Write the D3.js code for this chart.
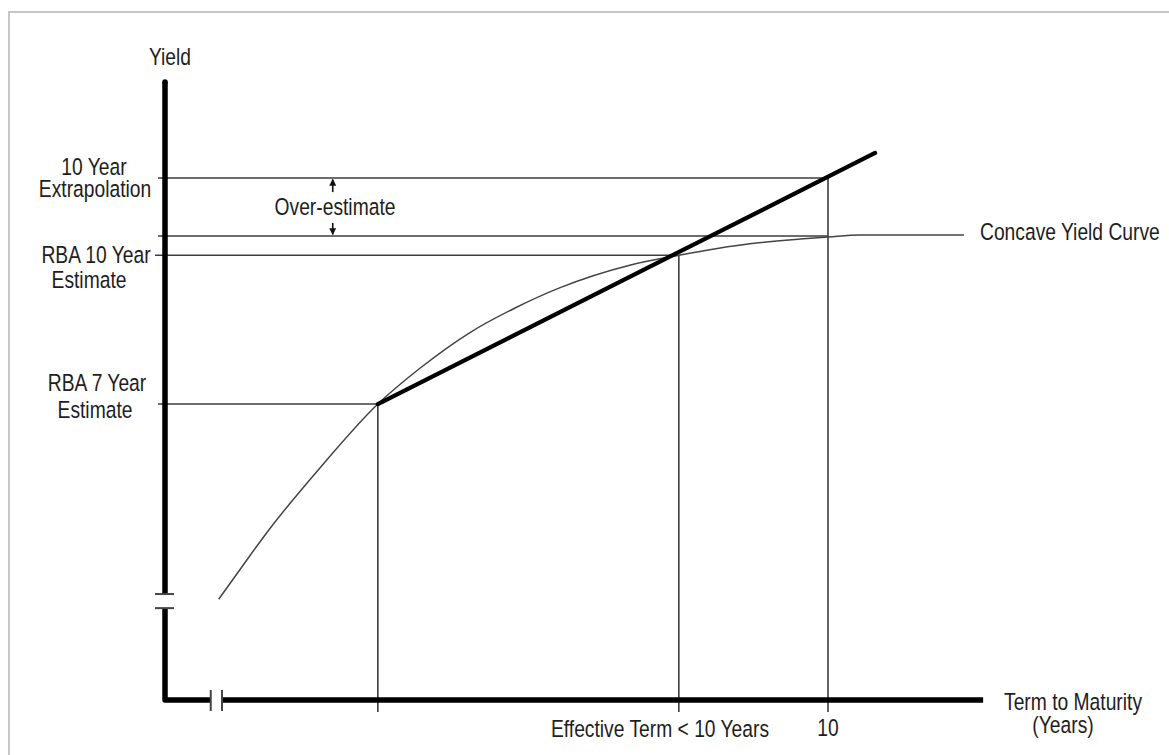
<!DOCTYPE html>
<html><head><meta charset="utf-8">
<script src="https://cdn.jsdelivr.net/npm/d3@7"></script>
<style>
body{margin:0;background:#fff;}
text{font-family:"Liberation Sans","Arial",sans-serif;font-size:23.5px;fill:#1e1e1e;}
</style>
</head><body>
<svg id="chart" width="1169" height="755"></svg>
<script>
// Concave yield curve (term units: 10 = ten-year mark; yield units arbitrary)
const curveTerm  = [0.81, 1.21, 1.58, 2.34, 3.21, 3.85, 4.60, 5.28, 5.96, 7.01, 7.75, 8.82, 9.58, 10.0, 10.48, 12.05];
const curveYield = [1.93, 2.64, 3.28, 4.45, 5.67, 6.36, 7.04, 7.51, 7.90, 8.33, 8.52, 8.74, 8.83, 8.87, 8.91, 8.91];
// Straight-line extrapolation from RBA 7-year through RBA 10-year estimate
const extrapTerm  = [3.21, 10.71];
const extrapYield = [5.67, 10.48];
// Reference levels on the yield axis
const levelNames  = ["10 Year Extrapolation", "Curve 10 Year", "RBA 10 Year Estimate", "RBA 7 Year Estimate"];
const levelYield  = [10.0, 8.89, 8.52, 5.67];
const levelTermEnd = [10.0, 10.0, 7.75, 3.21];
// Vertical reference terms
const markTerm  = [3.21, 7.75, 10.0];
const markYield = [5.67, 8.52, 10.0];
// Axis extents and breaks
const yAxisMax = 11.84, xAxisMax = 12.34;
const yBreak = [1.76, 2.03], xBreak = [0.69, 0.86];
// Over-estimate arrow position
const arrowTerm = 2.53;

const svg = d3.select("#chart");
const x = d3.scaleLinear().domain([0, 10]).range([165, 828]);
const y = d3.scaleLinear().domain([0, 10]).range([700, 178]);

// frame
svg.append("rect").attr("x", 9).attr("y", 12).attr("width", 1180).attr("height", 770)
  .attr("fill", "none").attr("stroke", "#c6c6c6").attr("stroke-width", 2);

const thin = "#3c3c3c";

// horizontal reference lines
levelYield.forEach((v, i) => {
  svg.append("line")
    .attr("x1", x(0) - (i === 2 ? 10 : 7)).attr("x2", x(levelTermEnd[i]))
    .attr("y1", y(v)).attr("y2", y(v))
    .attr("stroke", thin).attr("stroke-width", 1.6);
});

// vertical reference lines
markTerm.forEach((t, i) => {
  svg.append("line")
    .attr("x1", x(t)).attr("x2", x(t))
    .attr("y1", y(markYield[i])).attr("y2", y(0) + 12)
    .attr("stroke", thin).attr("stroke-width", 1.6);
});

// concave curve
const curvePts = curveTerm.map((t, i) => [x(t), y(curveYield[i])]);
svg.append("path")
  .attr("d", d3.line().curve(d3.curveMonotoneX)(curvePts))
  .attr("fill", "none").attr("stroke", "#444").attr("stroke-width", 1.5);

// extrapolation line
svg.append("path")
  .attr("d", d3.line()(extrapTerm.map((t, i) => [x(t), y(extrapYield[i])])))
  .attr("fill", "none").attr("stroke", "#000").attr("stroke-width", 4.2).attr("stroke-linecap", "round");

// axes with breaks
const axisPath = d3.path();
axisPath.moveTo(x(0), y(yAxisMax)); axisPath.lineTo(x(0), y(yBreak[1]));
axisPath.moveTo(x(0), y(yBreak[0])); axisPath.lineTo(x(0), y(0)); axisPath.lineTo(x(xBreak[0]), y(0));
axisPath.moveTo(x(xBreak[1]), y(0)); axisPath.lineTo(x(xAxisMax), y(0));
svg.append("path").attr("d", axisPath.toString())
  .attr("fill", "none").attr("stroke", "#000").attr("stroke-width", 5.5)
  .attr("stroke-linejoin", "round");
svg.append("circle").attr("cx", x(0)).attr("cy", y(yAxisMax)).attr("r", 2.75).attr("fill", "#000");

yBreak.forEach(v => {
  svg.append("line").attr("x1", x(0) - 10).attr("x2", x(0) + 9)
    .attr("y1", y(v)).attr("y2", y(v)).attr("stroke", "#444").attr("stroke-width", 2);
});
xBreak.forEach(t => {
  svg.append("line").attr("x1", x(t)).attr("x2", x(t))
    .attr("y1", y(0) - 10).attr("y2", y(0) + 11).attr("stroke", "#444").attr("stroke-width", 2);
});

// over-estimate arrows
const defs = svg.append("defs");
defs.append("marker").attr("id", "ah").attr("viewBox", "0 0 10 10").attr("refX", 9).attr("refY", 5)
  .attr("markerWidth", 7).attr("markerHeight", 7).attr("markerUnits", "userSpaceOnUse").attr("orient", "auto")
  .append("path").attr("d", "M0,0 L10,5 L0,10 Z").attr("fill", "#111");
svg.append("line").attr("x1", x(arrowTerm)).attr("x2", x(arrowTerm))
  .attr("y1", y(9.73)).attr("y2", y(levelYield[0]) + 1.5)
  .attr("stroke", "#111").attr("stroke-width", 1.6).attr("marker-end", "url(#ah)");
svg.append("line").attr("x1", x(arrowTerm)).attr("x2", x(arrowTerm))
  .attr("y1", y(9.14)).attr("y2", y(levelYield[1]) - 1.5)
  .attr("stroke", "#111").attr("stroke-width", 1.6).attr("marker-end", "url(#ah)");

// texts (condensed, like Arial Narrow)
function label(txt, px, py, anchor) {
  svg.append("g").attr("transform", `translate(${px},${py}) scale(0.82,1)`)
    .append("text").attr("x", 0).attr("y", 0).attr("dy", "0.35em")
    .attr("text-anchor", anchor || "middle").text(txt);
}
label("Yield", 170, 57);
label("10 Year", 94, 167);
label("Extrapolation", 95, 189);
label("RBA 10 Year", 96, 255);
label("Estimate", 89, 280);
label("RBA 7 Year", 97, 383);
label("Estimate", 95, 410);
label("Over-estimate", 335, 207);
label("Concave Yield Curve", 980, 232, "start");
label("Effective Term < 10 Years", 660, 729);
label("10", x(10), 728);
label("Term to Maturity", 1073, 702);
label("(Years)", 1063, 725);
</script>
</body></html>
